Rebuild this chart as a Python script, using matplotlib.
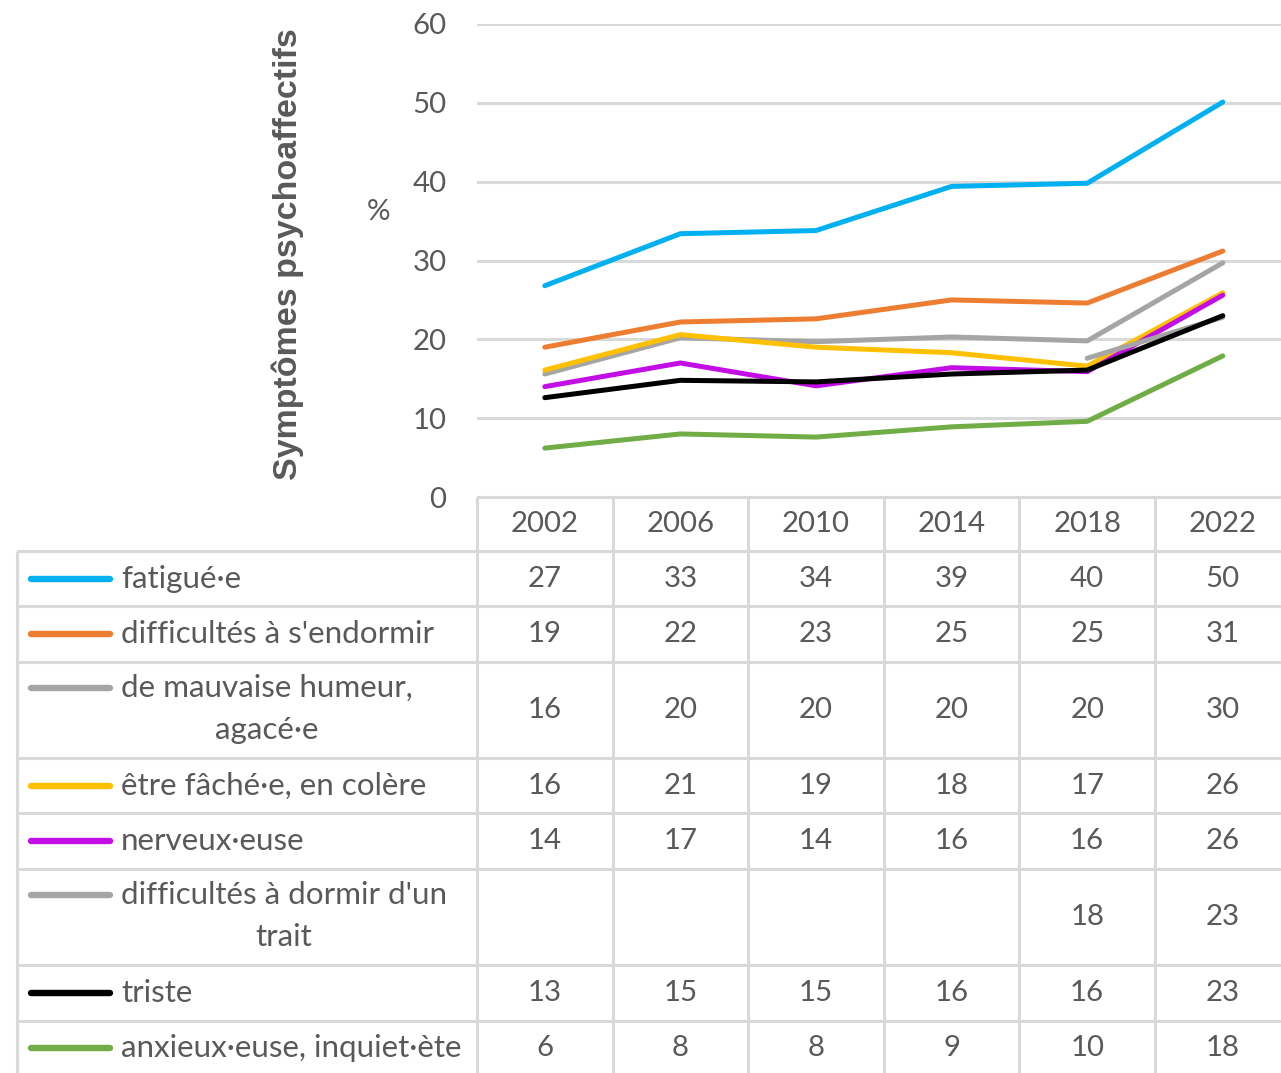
import matplotlib
matplotlib.use("Agg")
import matplotlib.pyplot as plt
from matplotlib.lines import Line2D

# ---------------- data ----------------
years = ["2002", "2006", "2010", "2014", "2018", "2022"]
labels = [
    "fatigué·e",
    "difficultés à s'endormir",
    "de mauvaise humeur,\nagacé·e",
    "être fâché·e, en colère",
    "nerveux·euse",
    "difficultés à dormir d'un\ntrait",
    "triste",
    "anxieux·euse, inquiet·ète",
]
fatigue = [26.8, 33.4, 33.8, 39.4, 39.8, 50.1]
endormir = [19.0, 22.2, 22.6, 25.0, 24.6, 31.2]
humeur = [15.6, 20.2, 19.7, 20.3, 19.8, 29.7]
colere = [16.1, 20.6, 19.0, 18.3, 16.6, 25.9]
nerveux = [14.0, 17.0, 14.1, 16.4, 15.9, 25.6]
dormir_trait = [None, None, None, None, 17.6, 22.8]
triste = [12.6, 14.8, 14.6, 15.6, 16.1, 23.0]
anxieux = [6.2, 8.0, 7.6, 8.9, 9.6, 17.9]
series = [fatigue, endormir, humeur, colere, nerveux, dormir_trait, triste, anxieux]
colors = ["#00B0F0", "#ED7D31", "#A5A5A5", "#FFC000", "#C30DE6",
          "#A5A5A5", "#000000", "#70AD47"]
y_title = "Symptômes psychoaffectifs"
y_unit = "%"

# ---------------- layout ----------------
W, H = 1281, 1073
FONT = "Lato"
TXT = "#595959"
GRID = "#D9D9D9"
FS_NUM = 21.2
FS_LAB = 22.6

fig = plt.figure(figsize=(W / 100, H / 100), dpi=100)
x0, colw, y0, ytop = 477, 135.6, 497, 24
ax = fig.add_axes([x0 / W, (H - y0) / H, 6 * colw / W, (y0 - ytop) / H])
ax.set_zorder(2)
ax.patch.set_visible(False)
ax.set_xlim(-0.5, 5.5)
ax.set_ylim(0, 60)
ax.set_yticks(range(0, 61, 10))
ax.set_xticks([])
for s in ax.spines.values():
    s.set_visible(False)
ax.yaxis.grid(True, color=GRID, lw=2.2)
ax.set_axisbelow(True)
ax.tick_params(axis="y", length=0, pad=22, labelsize=FS_NUM, labelcolor=TXT)
for t in ax.get_yticklabels():
    t.set_fontfamily(FONT)

for vals, c in zip(series, colors):
    xs = [i for i, v in enumerate(vals) if v is not None]
    ys = [v for v in vals if v is not None]
    ax.plot(xs, ys, color=c, lw=3.6, solid_capstyle="round",
            solid_joinstyle="round", clip_on=False)

# overlay axes in pixel coordinates (y downward)
tax = fig.add_axes([0, 0, 1, 1])
tax.set_zorder(1)
tax.set_xlim(0, W)
tax.set_ylim(H, 0)
tax.axis("off")

def px(xdata):
    return ax.transData.transform((xdata, 0))[0]

centers = [px(i) for i in range(len(years))]
bounds = [px(i - 0.5) for i in range(len(years) + 1)]
left = 17

header_h, single_h, double_h = 54, 55.3, 96.6
row_tops = [y0 + header_h]
for lab in labels:
    n = lab.count("\n") + 1
    row_tops.append(row_tops[-1] + (single_h if n == 1 else double_h))
bottom = row_tops[-1]

lw_border = 2.2
tax.hlines(y0, bounds[0], W + 20, color=GRID, lw=lw_border)
for yb in row_tops:
    tax.hlines(yb, left, W + 20, color=GRID, lw=lw_border)
tax.vlines(left, row_tops[0], bottom, color=GRID, lw=lw_border)
for xb in bounds:
    tax.vlines(xb, y0, bottom, color=GRID, lw=lw_border)

# header years
for xc, yr in zip(centers, years):
    tax.text(xc, y0 + header_h / 2, yr, ha="center", va="center",
             fontsize=FS_NUM, color=TXT, family=FONT)

# y title and unit
fig.text(288 / W, 1 - 254 / H, y_title, rotation=90, ha="center", va="center",
         fontsize=24.5, color=TXT, family="Liberation Sans", weight="bold")
fig.text(378 / W, 1 - 212 / H, y_unit, ha="center", va="center",
         fontsize=FS_NUM, color=TXT, family=FONT)

fig.canvas.draw()
renderer = fig.canvas.get_renderer()

for r, (lab, vals, c) in enumerate(zip(labels, series, colors)):
    top, bot = row_tops[r], row_tops[r + 1]
    lines = lab.split("\n")
    if len(lines) == 1:
        yl1 = (top + bot) / 2
    else:
        yl1 = top + 26
    tax.add_line(Line2D([31, 110], [yl1, yl1], color=c, lw=4.6,
                        solid_capstyle="round"))
    t1 = tax.text(121, yl1, lines[0], ha="left", va="center",
                  fontsize=FS_LAB, color=TXT, family=FONT)
    if len(lines) > 1:
        bb = t1.get_window_extent(renderer)
        xc = (bb.x0 + bb.x1) / 2
        tax.text(xc, yl1 + 42, lines[1], ha="center", va="center",
                 fontsize=FS_LAB, color=TXT, family=FONT)
    for xc, v in zip(centers, vals):
        if v is None:
            continue
        tax.text(xc, (top + bot) / 2, f"{round(v)}", ha="center", va="center",
                 fontsize=FS_NUM, color=TXT, family=FONT)

fig.savefig("out.png", dpi=100)
